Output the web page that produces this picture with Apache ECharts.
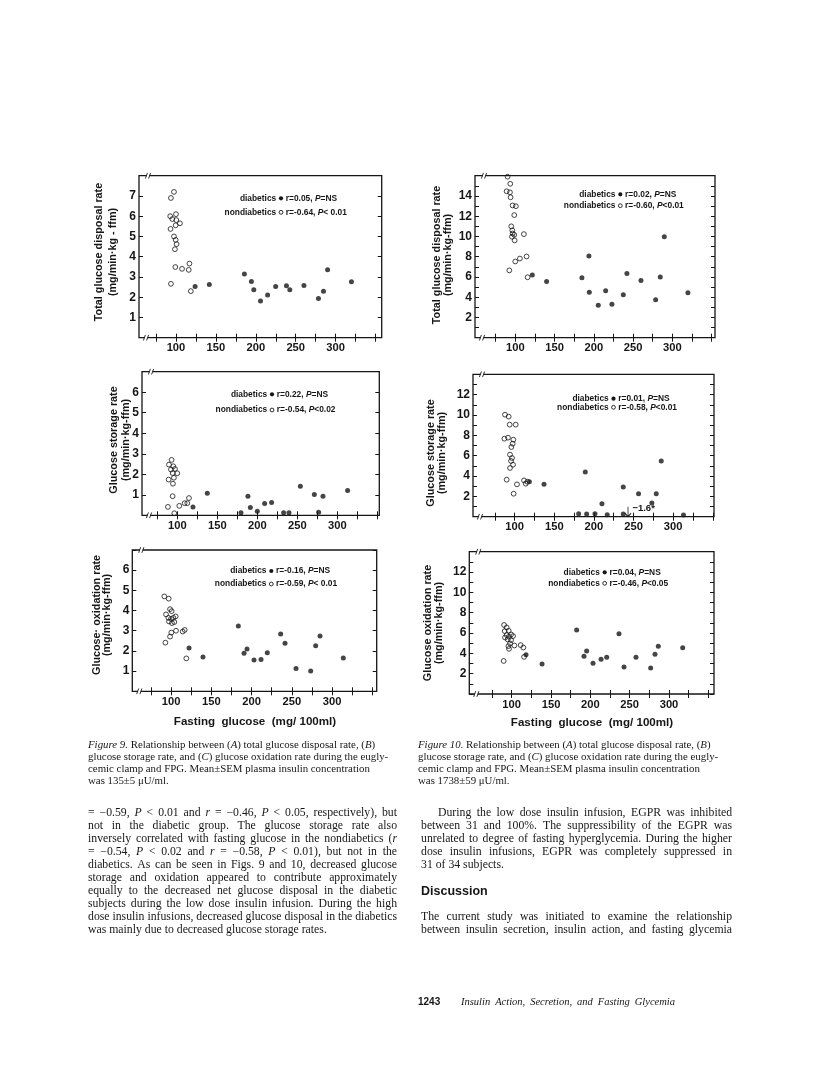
<!DOCTYPE html>
<html><head><meta charset="utf-8">
<script src="https://cdn.jsdelivr.net/npm/echarts@6/dist/echarts.min.js"></script>
<style>html,body{margin:0;padding:0;background:#fff}#c{width:816px;height:1065px}</style>
</head><body><div id="c"></div>
<script>
// ---------------- DATA ----------------
const xTickLabels = [100, 150, 200, 250, 300];
const xMinorTicks = [75, 100, 125, 150, 175, 200, 225, 250, 275, 300, 325, 350];

// Figure 9A: total glucose disposal rate (low dose)
const fig9A_non = [[93.7,6.9],[97.5,7.2],[92.8,6.0],[100,6.1],[95.4,5.86],[100.4,5.81],[99.6,5.55],[105,5.65],[93.2,5.37],[97.5,5.0],[99.6,4.83],[100.8,4.62],[98.7,4.37],[99.2,3.49],[107.6,3.40],[116,3.35],[116.9,3.66],[93.7,2.66],[118.6,2.30]];
const fig9A_dia = [[124,2.53],[141.8,2.63],[185.7,3.15],[194.5,2.78],[197.5,2.37],[205.9,1.81],[214.8,2.11],[224.9,2.53],[238.4,2.56],[242.6,2.37],[260.3,2.58],[278.5,1.94],[284.8,2.30],[289.9,3.36],[319.8,2.76]];
// Figure 10A
const fig10A_non = [[90.2,15.9],[93.6,15.2],[89,14.46],[93.2,14.36],[94,13.87],[96.6,13.06],[100.8,12.99],[98.7,12.11],[94.9,11.0],[96.2,10.6],[96.6,10.29],[98.7,10.16],[95.8,9.97],[99.2,9.61],[111,10.23],[92.4,6.65],[100,7.53],[105.9,7.82],[114.4,8.02],[115.7,5.97]];
const fig10A_dia = [[121.7,6.2],[139.9,5.54],[184.9,5.93],[193.8,8.08],[194.3,4.5],[205.7,3.2],[215.1,4.63],[223.1,3.3],[237.6,4.24],[242.2,6.33],[260.1,5.64],[278.8,3.76],[284.7,6.0],[289.8,9.97],[319.9,4.44]];
// Figure 9B: glucose storage rate
const fig9B_non = [[92.9,2.70],[89.6,2.47],[95,2.39],[92.1,2.23],[97.1,2.26],[94.2,2.06],[100,2.05],[95.8,1.83],[89.2,1.74],[94.6,1.54],[94.2,0.93],[88.3,0.41],[96.3,0.10],[102.5,0.46],[109.2,0.59],[112.5,0.59],[114.6,0.84]];
const fig9B_dia = [[119.6,0.40],[137.5,1.07],[179.6,0.12],[188.3,0.93],[191.3,0.38],[200,0.20],[209.2,0.58],[217.9,0.62],[232.9,0.12],[239.6,0.12],[253.8,1.42],[271.3,1.02],[276.7,0.15],[282.1,0.93],[312.9,1.21]];
// Figure 10B
const fig10B_non = [[87.8,10.03],[92.4,9.84],[93.7,9.05],[101.3,9.05],[87,7.67],[91.6,7.77],[98.3,7.57],[97.5,7.18],[95.8,6.85],[94.1,6.1],[96.6,5.77],[95.4,5.48],[97.9,5.11],[94.1,4.79],[89.9,3.64],[102.9,3.18],[98.7,2.26],[111.8,3.57],[113.9,3.25],[116,3.44]];
const fig10B_dia = [[118.5,3.44],[137,3.18],[180.7,0.30],[189.1,4.39],[190.8,0.26],[201.3,0.30],[210.1,1.28],[216.8,0.20],[237,2.92],[237,0.26],[256.3,2.26],[273.1,1.34],[278.6,2.26],[284.9,5.48],[313,0.16]];
const fig10B_offscale = [[243,-1.6]];
// Figure 9C: glucose oxidation rate
const fig9C_non = [[91.7,4.70],[97.1,4.59],[98.8,4.07],[100.8,3.97],[93.8,3.81],[105.8,3.71],[96.7,3.64],[100,3.59],[102.9,3.64],[97.5,3.46],[104.1,3.43],[101.2,3.38],[106.2,3.0],[100.4,2.91],[98.8,2.71],[93,2.41],[114.5,2.96],[117,3.04],[119,1.63]];
const fig9C_dia = [[122.4,2.15],[139.7,1.70],[183.6,3.23],[190.7,1.88],[194.4,2.10],[203.1,1.55],[211.8,1.58],[219.6,1.91],[236.2,2.84],[241.6,2.38],[255.3,1.13],[273.5,1.0],[279.7,2.26],[285.1,2.74],[314,1.65]];
// Figure 10C
const fig10C_non = [[90.3,6.79],[93.6,6.55],[96.2,6.22],[91.1,6.19],[99.2,5.86],[101.7,5.70],[93.6,5.80],[91.5,5.56],[96.6,5.63],[94.9,5.37],[99.2,5.30],[97.9,4.97],[95.8,4.71],[96.6,4.44],[103.4,4.77],[89.8,3.25],[111.4,4.81],[114.8,4.57],[115.7,3.65]];
const fig10C_dia = [[118.2,3.85],[138.6,2.96],[182.6,6.29],[191.9,3.72],[195.3,4.24],[203.4,3.02],[213.6,3.42],[220.8,3.62],[236.4,5.93],[242.8,2.66],[258,3.62],[276.7,2.56],[282.2,3.91],[286.4,4.71],[317.4,4.54]];

// Texts
const yTitles = [
  ['Total glucose disposal rate', '(mg/min·kg - ffm)'],
  ['Total glucose disposal rate', '(mg/min·kg-ffm)'],
  ['Glucose storage rate', '(mg/min·kg-ffm)'],
  ['Glucose storage rate', '(mg/min·kg-ffm)'],
  ['Glucose· oxidation rate', '(mg/min·kg-ffm)'],
  ['Glucose oxidation rate', '(mg/min·kg-ffm)']
];
const statsDia = ['r=0.05, _P_=NS', 'r=0.02,  _P_=NS', 'r=0.22, _P_=NS', 'r=0.01,  _P_=NS', 'r=-0.16, _P_=NS', 'r=0.04,  _P_=NS'];
const statsNon = ['r=-0.64, _P_< 0.01', 'r=-0.60, _P_<0.01', 'r=-0.54, _P_<0.02', 'r=-0.58, _P_<0.01', 'r=-0.59, _P_< 0.01', 'r=-0.46, _P_<0.05'];
const xTitle = 'Fasting  glucose  (mg/ 100ml)';

const caption9 = ['_Figure 9._ Relationship between (_A_) total glucose disposal rate, (_B_)',
  'glucose storage rate, and (_C_) glucose oxidation rate during the eugly-',
  'cemic clamp and FPG. Mean±SEM plasma insulin concentration',
  'was 135±5 μU/ml.'];
const caption10 = ['_Figure 10._ Relationship between (_A_) total glucose disposal rate, (_B_)',
  'glucose storage rate, and (_C_) glucose oxidation rate during the eugly-',
  'cemic clamp and FPG. Mean±SEM plasma insulin concentration',
  'was 1738±59 μU/ml.'];
const bodyLeft = ['= −0.59, _P_ < 0.01 and _r_ = −0.46, _P_ < 0.05, respectively), but',
  'not in the diabetic group. The glucose storage rate also',
  'inversely correlated with fasting glucose in the nondiabetics (_r_',
  '= −0.54, _P_ < 0.02 and _r_ = −0.58, _P_ < 0.01), but not in the',
  'diabetics. As can be seen in Figs. 9 and 10, decreased glucose',
  'storage and oxidation appeared to contribute approximately',
  'equally to the decreased net glucose disposal in the diabetic',
  'subjects during the low dose insulin infusion. During the high',
  'dose insulin infusions, decreased glucose disposal in the diabetics',
  'was mainly due to decreased glucose storage rates.'];
const bodyRight1 = ['During the low dose insulin infusion, EGPR was inhibited',
  'between 31 and 100%. The suppressibility of the EGPR was',
  'unrelated to degree of fasting hyperglycemia. During the higher',
  'dose insulin infusions, EGPR was completely suppressed in',
  '31 of 34 subjects.'];
const heading = 'Discussion';
const bodyRight2 = ['The current study was initiated to examine the relationship',
  'between insulin secretion, insulin action, and fasting glycemia'];
const pageNo = '1243';
const runningTitle = 'Insulin Action, Secretion, and Fasting Glycemia';

const seriesNon = [fig9A_non, fig10A_non, fig9B_non, fig10B_non, fig9C_non, fig10C_non];
const seriesDia = [fig9A_dia, fig10A_dia, fig9B_dia, fig10B_dia, fig9C_dia, fig10C_dia];

// ---------------- LAYOUT ----------------
const INK = '#161616';
const SANS = '"Liberation Sans", Arial, sans-serif';
const SERIF = '"Liberation Serif", "Times New Roman", serif';
const panels = [
  {L:139,   R:381.7, T:175.7, B:337.7, xmin:53.7, xmax:357.7, ymax:8,  lab:1, tx1:99.3,  tx2:112.7, ty:252, sx:281,   ly1:198.3, ly2:212.3},
  {L:475,   R:715,   T:175.7, B:337.7, xmin:48.7, xmax:354.4, ymax:16, lab:2, tx1:437.3, tx2:448,   ty:255, sx:620.3, ly1:194.3, ly2:205.7},
  {L:142,   R:379.3, T:371.7, B:515.3, xmin:55.9, xmax:352.5, ymax:7,  lab:1, tx1:114,   tx2:126,   ty:440, sx:272,   ly1:394.3, ly2:410},
  {L:473,   R:714,   T:374.3, B:516.7, xmin:47.4, xmax:351.5, ymax:14, lab:2, tx1:430.7, tx2:441.7, ty:453, sx:613.5, ly1:398.7, ly2:407.3},
  {L:132.3, R:376.7, T:550,   B:691.3, xmin:51.9, xmax:355.5, ymax:7,  lab:1, tx1:96.7,  tx2:107.3, ty:615, sx:271.3, ly1:571,   ly2:584},
  {L:469.3, R:714,   T:551.7, B:694,   xmin:46.1, xmax:357.2, ymax:14, lab:2, tx1:428.3, tx2:439.3, ty:623, sx:604.7, ly1:572.3, ly2:583.3}
];

// ---------------- TEXT HELPERS ----------------
const mctx = document.createElement('canvas').getContext('2d');
function fontStr(o){ return (o.italic?'italic ':'') + (o.bold?'bold ':'') + o.size + 'px ' + o.family; }
function tw(t, o){ mctx.font = fontStr(o); return mctx.measureText(t).width; }
function parseLine(line){
  const words=[]; let cur=[], seg='', it=false;
  const flush=()=>{ if(seg){ cur.push({t:seg,it}); seg=''; } };
  for(const ch of line){
    if(ch==='_'){ flush(); it=!it; }
    else if(ch===' '){ flush(); if(cur.length){ words.push(cur); cur=[]; } }
    else seg+=ch;
  }
  flush(); if(cur.length) words.push(cur);
  return words;
}
function lineWidth(line, base){
  const words=parseLine(line);
  let w=0; words.forEach(wd=>wd.forEach(g=>{ w+=tw(g.t,{...base,italic:g.it||base.italic}); }));
  return w + tw(' ',base)*(words.length-1);
}
function layoutLine(els, line, x0, x1, y, base, justify){
  const words=parseLine(line);
  const widths=words.map(w=>w.reduce((s,g)=>s+tw(g.t,{...base,italic:g.it||base.italic}),0));
  const total=widths.reduce((a,b)=>a+b,0);
  const space=tw(' ',base);
  const gap=(justify && words.length>1)?(x1-x0-total)/(words.length-1):space;
  let x=x0;
  words.forEach((w,i)=>{
    let xx=x;
    w.forEach(g=>{
      const f={...base,italic:g.it||base.italic};
      els.push({type:'text', x:xx, y:y, silent:true, style:{text:g.t, font:fontStr(f), fill:base.color||INK, align:'left', verticalAlign:'middle'}});
      xx+=tw(g.t,f);
    });
    x+=widths[i]+gap;
  });
}

// ---------------- CHART ----------------
const chart = echarts.init(document.getElementById('c'), null, {renderer:'canvas', width:816, height:1065});
const grid=[], xAxis=[], yAxis=[], series=[], graphic=[];
const tickStyle={color:INK, width:1};
panels.forEach((p,i)=>{
  grid.push({left:p.L, top:p.T, width:p.R-p.L, height:p.B-p.T, show:true, borderColor:INK, borderWidth:1.3, backgroundColor:'transparent'});
  const ticks = xMinorTicks.filter(v=>v>p.xmin && v<p.xmax);
  xAxis.push({gridIndex:i, type:'value', position:'bottom', min:p.xmin, max:p.xmax,
    axisLine:{show:false}, splitLine:{show:false},
    axisTick:{show:true, inside:true, length:4, lineStyle:tickStyle, customValues:ticks},
    axisLabel:{show:true, customValues:xTickLabels, margin:5, color:INK, fontFamily:SANS, fontWeight:'bold', fontSize:11.2}});
  xAxis.push({gridIndex:i, type:'value', position:'top', min:p.xmin, max:p.xmax,
    axisLine:{show:false}, splitLine:{show:false},
    axisTick:{show:true, inside:true, length:4, lineStyle:tickStyle, customValues:ticks},
    axisLabel:{show:false}});
  const fmt = v => (v>0 && v<p.ymax && v % p.lab === 0) ? String(v) : '';
  yAxis.push({gridIndex:i, type:'value', position:'left', min:0, max:p.ymax, interval:1,
    axisLine:{show:false}, splitLine:{show:false},
    axisTick:{show:true, inside:true, length:4, lineStyle:tickStyle},
    axisLabel:{formatter:fmt, margin:3, color:INK, fontFamily:SANS, fontWeight:'bold', fontSize:12}});
  yAxis.push({gridIndex:i, type:'value', position:'right', min:0, max:p.ymax, interval:1,
    axisLine:{show:false}, splitLine:{show:false},
    axisTick:{show:true, inside:true, length:4, lineStyle:tickStyle},
    axisLabel:{show:false}});
  series.push({type:'scatter', name:'nondiabetics', xAxisIndex:2*i, yAxisIndex:2*i, data:seriesNon[i],
    symbol:'circle', symbolSize:4.8, itemStyle:{color:'rgba(255,255,255,0)', borderColor:INK, borderWidth:1}, silent:true});
  series.push({type:'scatter', name:'diabetics', xAxisIndex:2*i, yAxisIndex:2*i, data:seriesDia[i],
    symbol:'circle', symbolSize:5, itemStyle:{color:INK}, silent:true});

  // y-axis titles (two rotated lines)
  const tf={size:10.8, family:SANS, bold:true};
  graphic.push({type:'text', x:p.tx1, y:p.ty, rotation:Math.PI/2, silent:true, style:{text:yTitles[i][0], font:fontStr(tf), fill:INK, align:'center', verticalAlign:'middle'}});
  graphic.push({type:'text', x:p.tx2, y:p.ty, rotation:Math.PI/2, silent:true, style:{text:yTitles[i][1], font:fontStr(tf), fill:INK, align:'center', verticalAlign:'middle'}});

  // in-plot legend / statistics
  const lf={size:8.4, family:SANS, bold:true};
  graphic.push({type:'text', x:p.sx-4.8, y:p.ly1, silent:true, style:{text:'diabetics', font:fontStr(lf), fill:INK, align:'right', verticalAlign:'middle'}});
  graphic.push({type:'text', x:p.sx-4.8, y:p.ly2, silent:true, style:{text:'nondiabetics', font:fontStr(lf), fill:INK, align:'right', verticalAlign:'middle'}});
  graphic.push({type:'circle', silent:true, shape:{cx:p.sx, cy:p.ly1, r:2.1}, style:{fill:INK}});
  graphic.push({type:'circle', silent:true, shape:{cx:p.sx, cy:p.ly2, r:1.9}, style:{fill:'none', stroke:INK, lineWidth:0.9}});
  layoutLine(graphic, statsDia[i], p.sx+4.8, 0, p.ly1, lf, false);
  layoutLine(graphic, statsNon[i], p.sx+4.8, 0, p.ly2, lf, false);

  // axis break marks on top and bottom frame lines
  [p.T, p.B].forEach((yb,k)=>{
    const xb = p.L + (k===0 ? 9 : 7);
    graphic.push({type:'rect', silent:true, shape:{x:xb-1.5, y:yb-2, width:3, height:4}, style:{fill:'#fff'}});
    graphic.push({type:'line', silent:true, shape:{x1:xb-2.6, y1:yb+2.8, x2:xb-0.6, y2:yb-2.8}, style:{stroke:INK, lineWidth:0.9}});
    graphic.push({type:'line', silent:true, shape:{x1:xb+0.6, y1:yb+2.8, x2:xb+2.6, y2:yb-2.8}, style:{stroke:INK, lineWidth:0.9}});
  });
});

// off-scale point in Fig 10B (arrow with value label)
series.push({type:'scatter', xAxisIndex:6, yAxisIndex:6, data:[], silent:true,
  markPoint:{silent:true, symbol:'path://M5,0 L5,20 M1,13 L5,20 L9,13', symbolSize:[6,10], symbolOffset:[0,-5],
    itemStyle:{color:'rgba(0,0,0,0)', borderColor:INK, borderWidth:1},
    label:{show:true, position:'right', distance:1, offset:[0,-3], color:INK, fontFamily:SANS, fontWeight:'bold', fontSize:9.5,
      formatter:pp => String(pp.value).replace('-', '−') + '*'},
    data:fig10B_offscale.map(d=>({coord:[d[0],0], value:d[1]}))}});

// x-axis titles
const xtf={size:11.6, family:SANS, bold:true};
graphic.push({type:'text', x:255, y:722, silent:true, style:{text:xTitle, font:fontStr(xtf), fill:INK, align:'center', verticalAlign:'middle'}});
graphic.push({type:'text', x:592, y:722.3, silent:true, style:{text:xTitle, font:fontStr(xtf), fill:INK, align:'center', verticalAlign:'middle'}});

// captions (ragged right)
const capBase={size:10, family:SERIF};
capBase.size = +(10 * 294 / ((lineWidth(caption9[0], capBase) + lineWidth(caption9[1], capBase))/2)).toFixed(2);
const capY=[745.5, 757.5, 769.5, 781.5];
caption9.forEach((l,k)=>layoutLine(graphic, l, 88, 382, capY[k], capBase, false));
caption10.forEach((l,k)=>layoutLine(graphic, l, 418, 722, capY[k], capBase, false));

// body text (justified)
const bodyBase={size:11, family:SERIF};
bodyBase.size = +(11 * 309 / lineWidth(bodyLeft[8], bodyBase)).toFixed(2);
const by0=812.5, bdy=13.1;
bodyLeft.forEach((l,k)=>layoutLine(graphic, l, 88, 397, by0+k*bdy, bodyBase, k<bodyLeft.length-1));
bodyRight1.forEach((l,k)=>layoutLine(graphic, l, k===0?438:421, 732, by0+k*bdy, bodyBase, k<bodyRight1.length-1));
graphic.push({type:'text', x:421, y:by0+6*bdy, silent:true, style:{text:heading, font:fontStr({size:12.5, family:SANS, bold:true}), fill:INK, align:'left', verticalAlign:'middle'}});
bodyRight2.forEach((l,k)=>layoutLine(graphic, l, 421, 732, by0+(8+k)*bdy, bodyBase, true));

// running footer
graphic.push({type:'text', x:418, y:1002, silent:true, style:{text:pageNo, font:fontStr({size:10, family:SANS, bold:true}), fill:INK, align:'left', verticalAlign:'middle'}});
layoutLine(graphic, runningTitle, 461, 675, 1002, {size:10.5, family:SERIF, italic:true}, true);

chart.setOption({
  animation:false,
  backgroundColor:'#ffffff',
  grid, xAxis, yAxis, series,
  graphic:{elements:graphic}
});
</script>
</body></html>
